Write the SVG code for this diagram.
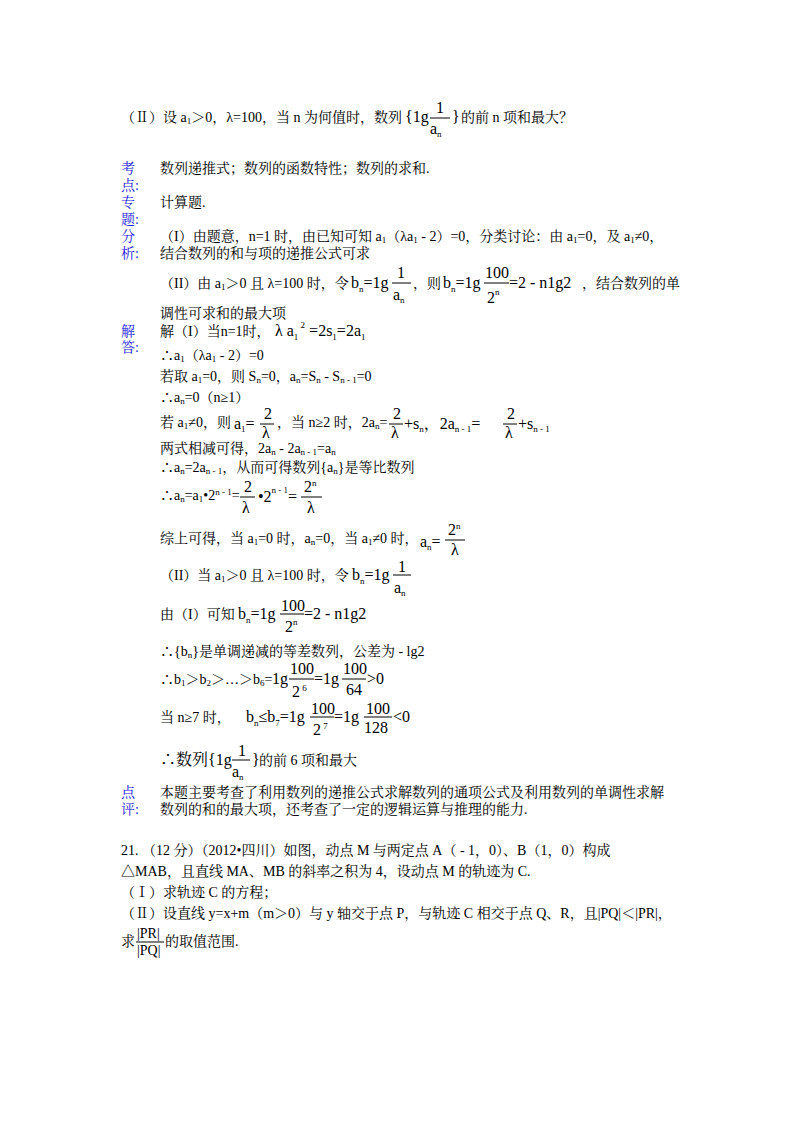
<svg xmlns="http://www.w3.org/2000/svg" width="800" height="1132" viewBox="0 0 800 1132">
<style>
text{font-family:"Liberation Serif","Noto Serif CJK SC","Noto Sans CJK SC",serif;font-size:14px;fill:#000}
.l{fill:#2323e0;font-size:14px}
.m{font-size:16px}
.s{font-size:9px}
line{stroke:#000;stroke-width:1}
</style>
<rect width="800" height="1132" fill="#fff"/>
<g id="q2">
<text x="121" y="122">（Ⅱ）设 a<tspan class="s" dy="2">1</tspan><tspan dy="-2">＞0，λ=100，当 n 为何值时，数列</tspan></text>
<text class="m" x="405" y="122">{1g</text><text class="m" x="436" y="113">1</text><line x1="430" y1="118" x2="450" y2="118"/><text class="m" x="430" y="134">a<tspan class="s" dy="3">n</tspan></text><text class="m" x="452" y="122">}</text>
<text x="461" y="122">的前 n 项和最大？</text>
</g>
<g id="labels">
<text class="l" x="121" y="173">考</text><text class="l" x="121" y="190">点:</text>
<text class="l" x="121" y="207">专</text><text class="l" x="121" y="224">题:</text>
<text class="l" x="121" y="241">分</text><text class="l" x="121" y="258">析:</text>
<text class="l" x="121" y="336">解</text><text class="l" x="121" y="352">答:</text>
<text class="l" x="121" y="797">点</text><text class="l" x="121" y="814">评:</text>
</g>
<g id="body">
<text x="160" y="173">数列递推式；数列的函数特性；数列的求和.</text>
<text x="160" y="207">计算题.</text>
<text x="160" y="241">（I）由题意，n=1 时，由已知可知 a<tspan class="s" dy="2">1</tspan><tspan dy="-2">（λa</tspan><tspan class="s" dy="2">1</tspan><tspan dy="-2"> - 2）=0，分类讨论：由 a</tspan><tspan class="s" dy="2">1</tspan><tspan dy="-2">=0，及 a</tspan><tspan class="s" dy="2">1</tspan><tspan dy="-2">≠0，</tspan></text>
<text x="160" y="258">结合数列的和与项的递推公式可求</text>
<text x="160" y="288">（II）由 a<tspan class="s" dy="2">1</tspan><tspan dy="-2">＞0 且 λ=100 时，令</tspan></text>
<text class="m" x="351" y="288">b<tspan class="s" dy="4">n</tspan><tspan dy="-4">=1g</tspan></text><text class="m" x="397" y="278">1</text><line x1="392" y1="283" x2="411" y2="283"/><text class="m" x="393" y="300">a<tspan class="s" dy="3">n</tspan></text>
<text x="413" y="288">，则</text>
<text class="m" x="443" y="288">b<tspan class="s" dy="4">n</tspan><tspan dy="-4">=1g</tspan></text><text class="m" x="485" y="278">100</text><line x1="484" y1="283" x2="509" y2="283"/><text class="m" x="487" y="303">2<tspan class="s" dy="-8">n</tspan></text>
<text class="m" x="509" y="288">=2 - n1g2</text><text x="582" y="288">，结合数列的单</text>
<text x="160" y="318">调性可求和的最大项</text>
<text x="160" y="336">解（I）当n=1时，</text>
<text class="m" x="275" y="336">λ  a<tspan class="s" dy="4">1</tspan><tspan class="s" dy="-12"> 2</tspan><tspan dy="8"> =2s</tspan><tspan class="s" dy="4">1</tspan><tspan dy="-4">=2a</tspan><tspan class="s" dy="4">1</tspan></text>
<text x="160" y="360">∴a<tspan class="s" dy="2">1</tspan><tspan dy="-2">（λa</tspan><tspan class="s" dy="2">1</tspan><tspan dy="-2"> - 2）=0</tspan></text>
<text x="160" y="381">若取 a<tspan class="s" dy="2">1</tspan><tspan dy="-2">=0，则 S</tspan><tspan class="s" dy="2">n</tspan><tspan dy="-2">=0，a</tspan><tspan class="s" dy="2">n</tspan><tspan dy="-2">=S</tspan><tspan class="s" dy="2">n</tspan><tspan dy="-2"> - S</tspan><tspan class="s" dy="2">n - 1</tspan><tspan dy="-2">=0</tspan></text>
<text x="160" y="402">∴a<tspan class="s" dy="2">n</tspan><tspan dy="-2">=0（n≥1）</tspan></text>
<text x="160" y="427">若 a<tspan class="s" dy="2">1</tspan><tspan dy="-2">≠0，则</tspan></text>
<text class="m" x="234" y="429">a<tspan class="s" dy="3">1</tspan><tspan dy="-3">=</tspan></text><text class="m" x="264" y="419">2</text><line x1="260" y1="424" x2="274" y2="424"/><text class="m" x="262" y="438">λ</text>
<text x="277" y="427">，当 n≥2 时，2a<tspan class="s" dy="2">n</tspan><tspan dy="-2">=</tspan></text>
<text class="m" x="393" y="419">2</text><line x1="389" y1="424" x2="403" y2="424"/><text class="m" x="391" y="438">λ</text>
<text class="m" x="404" y="429">+s<tspan class="s" dy="3">n</tspan><tspan dy="-3">，2a</tspan><tspan class="s" dy="3">n - 1</tspan><tspan dy="-3">=</tspan></text>
<text class="m" x="507" y="419">2</text><line x1="503" y1="424" x2="517" y2="424"/><text class="m" x="505" y="438">λ</text>
<text class="m" x="518" y="429">+s<tspan class="s" dy="3">n - 1</tspan></text>
<text x="160" y="453">两式相减可得，2a<tspan class="s" dy="2">n</tspan><tspan dy="-2"> - 2a</tspan><tspan class="s" dy="2">n - 1</tspan><tspan dy="-2">=a</tspan><tspan class="s" dy="2">n</tspan></text>
<text x="160" y="472">∴a<tspan class="s" dy="2">n</tspan><tspan dy="-2">=2a</tspan><tspan class="s" dy="2">n - 1</tspan><tspan dy="-2">，从而可得数列{a</tspan><tspan class="s" dy="2">n</tspan><tspan dy="-2">}是等比数列</tspan></text>
<text x="160" y="500">∴a<tspan class="s" dy="2">n</tspan><tspan dy="-2">=a</tspan><tspan class="s" dy="2">1</tspan><tspan dy="-2">•2</tspan><tspan class="s" dy="-5">n - 1</tspan><tspan dy="5">=</tspan></text>
<text class="m" x="244" y="492">2</text><line x1="240" y1="497" x2="255" y2="497"/><text class="m" x="242" y="513">λ</text>
<text class="m" x="258" y="502">•2<tspan class="s" dy="-9">n - 1</tspan><tspan dy="9">=</tspan></text>
<text class="m" x="304" y="492">2<tspan class="s" dy="-6">n</tspan></text><line x1="301" y1="497" x2="322" y2="497"/><text class="m" x="307" y="513">λ</text>
<text x="160" y="543">综上可得，当 a<tspan class="s" dy="2">1</tspan><tspan dy="-2">=0 时，a</tspan><tspan class="s" dy="2">n</tspan><tspan dy="-2">=0，当 a</tspan><tspan class="s" dy="2">1</tspan><tspan dy="-2">≠0 时，</tspan></text>
<text class="m" x="420" y="547">a<tspan class="s" dy="3">n</tspan><tspan dy="-3">=</tspan></text><text class="m" x="448" y="535">2<tspan class="s" dy="-6">n</tspan></text><line x1="445" y1="540" x2="465" y2="540"/><text class="m" x="451" y="555">λ</text>
<text x="160" y="580">（II）当 a<tspan class="s" dy="2">1</tspan><tspan dy="-2">＞0 且 λ=100 时，令</tspan></text>
<text class="m" x="352" y="580">b<tspan class="s" dy="4">n</tspan><tspan dy="-4">=1g</tspan></text><text class="m" x="398" y="572">1</text><line x1="393" y1="575" x2="411" y2="575"/><text class="m" x="394" y="593">a<tspan class="s" dy="3">n</tspan></text>
<text x="160" y="619">由（I）可知</text>
<text class="m" x="238" y="619">b<tspan class="s" dy="4">n</tspan><tspan dy="-4">=1g</tspan></text><text class="m" x="281" y="611">100</text><line x1="280" y1="614" x2="304" y2="614"/><text class="m" x="285" y="632">2<tspan class="s" dy="-7">n</tspan></text>
<text class="m" x="304" y="619">=2 - n1g2</text>
<text x="160" y="656">∴{b<tspan class="s" dy="2">n</tspan><tspan dy="-2">}是单调递减的等差数列，公差为 - lg2</tspan></text>
<text x="160" y="684">∴b<tspan class="s" dy="2">1</tspan><tspan dy="-2">＞b</tspan><tspan class="s" dy="2">2</tspan><tspan dy="-2">＞…＞b</tspan><tspan class="s" dy="2">6</tspan><tspan dy="-2">=</tspan></text>
<text class="m" x="272" y="684">1g</text><text class="m" x="290" y="674">100</text><line x1="289" y1="679" x2="314" y2="679"/><text class="m" x="292" y="697">2<tspan class="s" dy="-6"> 6</tspan></text>
<text class="m" x="314" y="684">=1g</text><text class="m" x="343" y="674">100</text><line x1="342" y1="679" x2="366" y2="679"/><text class="m" x="346" y="695">64</text><text class="m" x="367" y="684">&gt;0</text>
<text x="160" y="722">当 n≥7 时，</text>
<text class="m" x="246" y="722">b<tspan class="s" dy="4">n</tspan><tspan dy="-4">≤b</tspan><tspan class="s" dy="4">7</tspan><tspan dy="-4">=1g</tspan></text>
<text class="m" x="311" y="714">100</text><line x1="310" y1="717" x2="334" y2="717"/><text class="m" x="313" y="735">2<tspan class="s" dy="-6"> 7</tspan></text>
<text class="m" x="334" y="722">=1g</text><text class="m" x="366" y="714">100</text><line x1="364" y1="717" x2="392" y2="717"/><text class="m" x="364" y="733">128</text><text class="m" x="393" y="722">&lt;0</text>
<text class="m" x="160" y="765">∴数列</text>
<text class="m" x="208" y="765">{1g</text><text class="m" x="238" y="756">1</text><line x1="232" y1="760" x2="250" y2="760"/><text class="m" x="232" y="777">a<tspan class="s" dy="3">n</tspan></text><text class="m" x="252" y="765">}</text>
<text x="259" y="765">的前 6 项和最大</text>
<text x="160" y="797">本题主要考查了利用数列的递推公式求解数列的通项公式及利用数列的单调性求解</text>
<text x="160" y="814">数列的和的最大项，还考查了一定的逻辑运算与推理的能力.</text>
</g>
<g id="q21">
<text x="121" y="855">21. （12 分）（2012•四川）如图，动点 M 与两定点 A（ - 1，0）、B（1，0）构成</text>
<text x="121" y="876">△MAB，且直线 MA、MB 的斜率之积为 4，设动点 M 的轨迹为 C.</text>
<text x="121" y="897">（Ⅰ）求轨迹 C 的方程；</text>
<text x="121" y="918">（Ⅱ）设直线 y=x+m（m＞0）与 y 轴交于点 P，与轨迹 C 相交于点 Q、R，且|PQ|＜|PR|，</text>
<text x="121" y="946">求</text>
<text x="137" y="938">|PR|</text><line x1="136" y1="942" x2="164" y2="942"/><text x="137" y="955">|PQ|</text>
<text x="165" y="946">的取值范围.</text>
</g>
</svg>
